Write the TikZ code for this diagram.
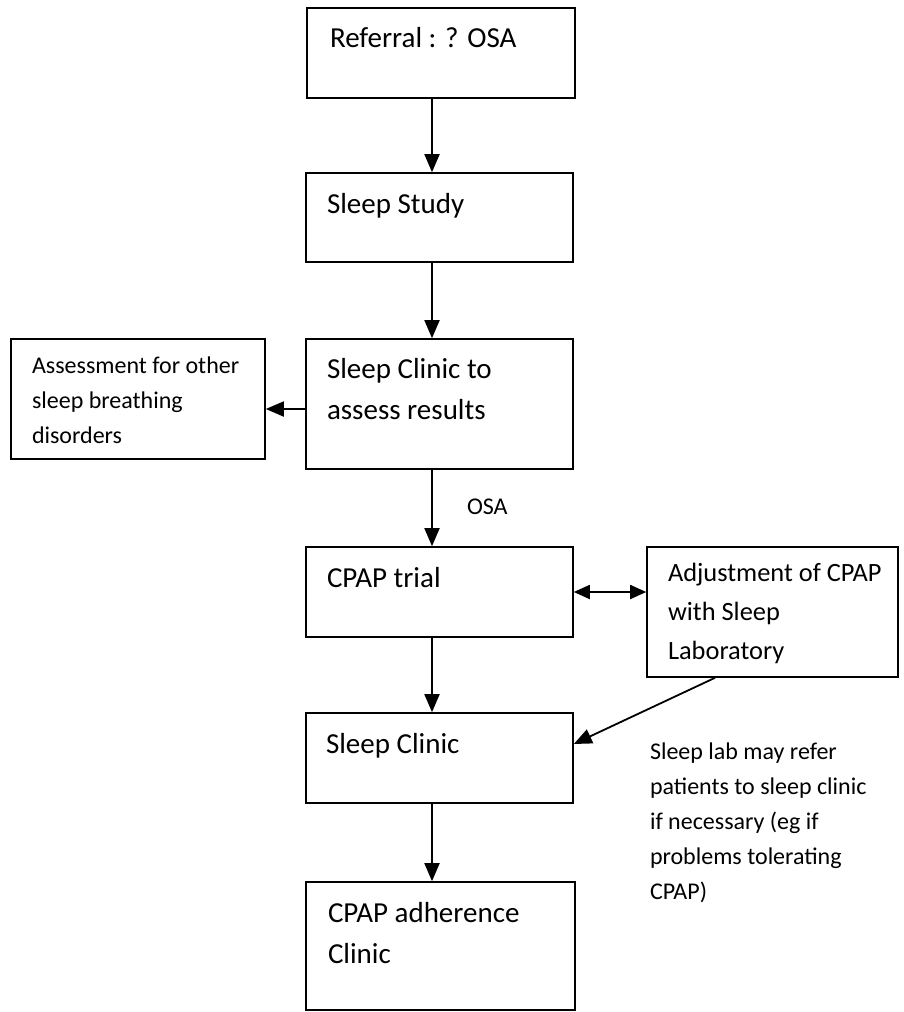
\documentclass[tikz,border=0pt]{standalone}
\usepackage{fontspec}
\setmainfont{Carlito}
\usetikzlibrary{arrows.meta}

\tikzset{
  box/.style={draw=black, line width=1.6pt, fill=white, inner sep=0pt, rectangle},
  flow/.style={draw=black, line width=1.8pt, -{Triangle[length=18pt,width=15pt]}},
  twoway/.style={draw=black, line width=1.8pt, {Triangle[length=16pt,width=14pt]}-{Triangle[length=16pt,width=14pt]}},
  txt/.style={anchor=base west, inner sep=0pt, outer sep=0pt},
}
\newcommand{\bigtxt}[1]{\parbox[t]{260pt}{\raggedright\fontsize{29}{41}\selectfont #1}}
\newcommand{\midtxt}[1]{\parbox[t]{240pt}{\raggedright\fontsize{26.4}{39}\selectfont #1}}
\newcommand{\smalltxt}[1]{\parbox[t]{250pt}{\raggedright\fontsize{24}{35}\selectfont #1}}

\begin{document}
\begin{tikzpicture}[x=1pt, y=-1pt]
  \useasboundingbox (0,0) rectangle (904,1012);

  % boxes of the pathway
  \node[box, minimum width=268pt, minimum height=90pt]  (ref)    at (441,53)     {};
  \node[box, minimum width=267pt, minimum height=89pt]  (study)  at (439.5,217.5) {};
  \node[box, minimum width=267pt, minimum height=130pt] (assess) at (439.5,404)  {};
  \node[box, minimum width=254pt, minimum height=120pt] (other)  at (138,399)    {};
  \node[box, minimum width=267pt, minimum height=90pt]  (trial)  at (439.5,592)  {};
  \node[box, minimum width=251pt, minimum height=130pt] (adjust) at (772.5,612)  {};
  \node[box, minimum width=267pt, minimum height=90pt]  (clinic) at (439.5,758)  {};
  \node[box, minimum width=269pt, minimum height=128pt] (adhere) at (440.5,946)  {};

  % box texts
  \node[txt] (tref)    at (330,47)  {\bigtxt{Referral : ? OSA}};
  \node[txt] (tstudy)  at (327,213) {\bigtxt{Sleep Study}};
  \node[txt] (tassess) at (327,378) {\bigtxt{Sleep Clinic to\\assess results}};
  \node[txt] (tother)  at (32,373)  {\smalltxt{Assessment for other\\sleep breathing\\disorders}};
  \node[txt] (ttrial)  at (327,587) {\bigtxt{CPAP trial}};
  \node[txt] (tadjust) at (668,581) {\midtxt{Adjustment of CPAP\\with Sleep\\Laboratory}};
  \node[txt] (tclinic) at (326,753) {\bigtxt{Sleep Clinic}};
  \node[txt] (tadhere) at (328,922) {\bigtxt{CPAP adherence\\Clinic}};

  % free labels
  \node[txt] (tosa)  at (467,514) {\smalltxt{OSA}};
  \node[txt] (tnote) at (650,759) {\smalltxt{Sleep lab may refer\\patients to sleep clinic\\if necessary (eg if\\problems tolerating\\CPAP)}};

  % helper positions for the connectors
  \coordinate (col)   at (432,0);
  \coordinate (sidey) at (0,409);
  \coordinate (diagx) at (715,0);
  \coordinate (diagy) at (0,744);

  % connectors
  \draw[flow] (ref.south -| col)    -- (study.north -| col);
  \draw[flow] (study.south -| col)  -- (assess.north -| col);
  \draw[flow] (assess.west |- sidey) -- (other.east |- sidey);
  \draw[flow] (assess.south -| col) -- (trial.north -| col);
  \draw[twoway] (trial.east) -- (adjust.west |- trial.east);
  \draw[flow] (trial.south -| col)  -- (clinic.north -| col);
  \draw[flow] (adjust.south -| diagx) -- (clinic.east |- diagy);
  \draw[flow] (clinic.south -| col) -- (adhere.north -| col);
\end{tikzpicture}
\end{document}
